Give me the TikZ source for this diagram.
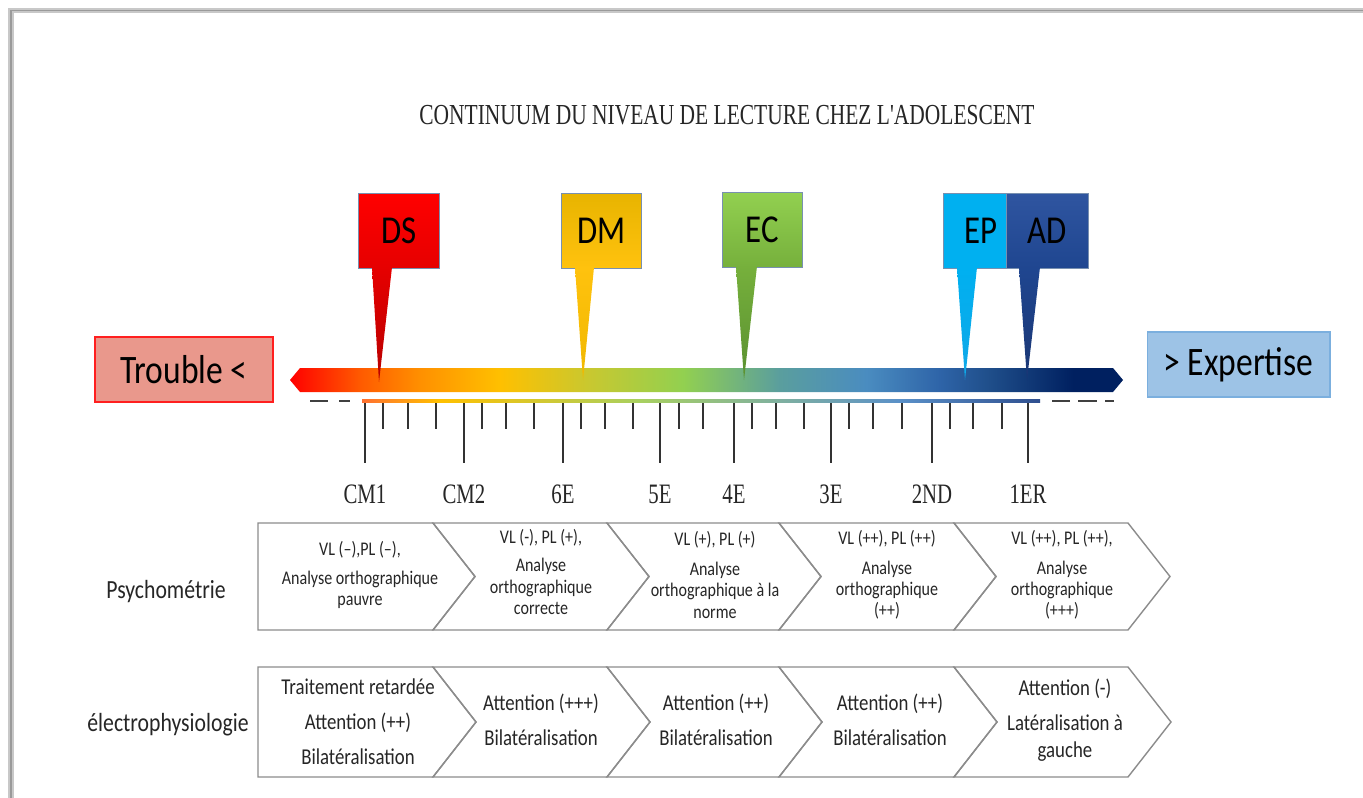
\documentclass[tikz,border=0pt]{standalone}
\usepackage{fontspec}
\setmainfont{Carlito}[FakeStretch=0.83]
\newfontfamily\titlefont{Liberation Serif}[FakeStretch=0.74]
\usepackage{xcolor}
\usetikzlibrary{positioning,calc}
\definecolor{framegray}{HTML}{C8C8C8}
\definecolor{framedark}{HTML}{9A9A9A}
\definecolor{troublefill}{HTML}{E9988C}
\definecolor{troubleedge}{HTML}{FF1F1F}
\definecolor{expertfill}{HTML}{9DC3E6}
\definecolor{expertedge}{HTML}{7BAFDE}
\definecolor{pinedge}{HTML}{7890B0}
\definecolor{dsred}{HTML}{FF0000}
\definecolor{dsdark}{HTML}{E60000}
\definecolor{dstail}{HTML}{B80000}
\definecolor{dmtop}{HTML}{E8B400}
\definecolor{dmgold}{HTML}{FFC20E}
\definecolor{dmtail}{HTML}{F0B800}
\definecolor{ecgreen}{HTML}{92D050}
\definecolor{ecdark}{HTML}{76B03C}
\definecolor{ectail}{HTML}{5A9030}
\definecolor{epblue}{HTML}{00B0F0}
\definecolor{eptail}{HTML}{10A8E8}
\definecolor{adblue}{HTML}{2F55A0}
\definecolor{addark}{HTML}{1F4690}
\definecolor{adtail}{HTML}{1A3674}
\definecolor{chevgray}{HTML}{8C8C8C}
\definecolor{inkdark}{HTML}{262626}
% bar colours
\definecolor{bRed}{HTML}{FF0000}
\definecolor{bOrange}{HTML}{FF5A00}
\definecolor{bAmber}{HTML}{FF9000}
\definecolor{bGold}{HTML}{FFC000}
\definecolor{bOlive}{HTML}{C8C830}
\definecolor{bGreen}{HTML}{92D050}
\definecolor{bTeal}{HTML}{5A9E9E}
\definecolor{bSky}{HTML}{4A8CC0}
\definecolor{bBlue}{HTML}{2E64A8}
\definecolor{bDeep}{HTML}{1F4E8A}
\definecolor{bNavy}{HTML}{002060}
% thin line under the bar
\definecolor{tOrange}{HTML}{FF7030}
\definecolor{tGold}{HTML}{FFC000}
\definecolor{tGreen}{HTML}{A8D060}
\definecolor{tTeal}{HTML}{7FB0A0}
\definecolor{tBlue}{HTML}{5A90C8}
\definecolor{tNavy}{HTML}{2F4F8F}
\pgfdeclarehorizontalshading{readbar}{100bp}{color(0bp)=(bRed); color(25bp)=(bRed);
  color(29.2bp)=(bOrange); color(32.8bp)=(bAmber); color(37.6bp)=(bGold);
  color(43bp)=(bOlive); color(48.6bp)=(bGreen); color(54.4bp)=(bTeal);
  color(59.6bp)=(bSky); color(64bp)=(bBlue); color(67bp)=(bDeep);
  color(72bp)=(bNavy); color(75bp)=(bNavy); color(100bp)=(bNavy)}
\pgfdeclarehorizontalshading{tickline}{100bp}{color(0bp)=(tOrange); color(25bp)=(tOrange);
  color(30.7bp)=(tGold); color(45.5bp)=(tGreen); color(55.8bp)=(tTeal);
  color(64.7bp)=(tBlue); color(75bp)=(tNavy); color(100bp)=(tNavy)}
\tikzset{
  titletext/.style={font=\titlefont\fontsize{16.5}{18}\selectfont, text=inkdark},
  pinbox/.style={rectangle, draw=pinedge, line width=0.4pt,
    minimum height=1.5cm, inner sep=0pt, anchor=north west,
    font=\fontsize{22.5}{26}\selectfont},
  endbox/.style={rectangle, draw=#1, line width=1pt,
    minimum height=1.3cm, inner sep=0pt,
    font=\fontsize{23}{26}\selectfont},
  ticklabel/.style={font=\titlefont\fontsize{16}{18}\selectfont, text=inkdark},
  tick/.style={draw=black!80, line width=0.6pt},
  dashline/.style={draw=black!75, line width=1.4pt},
  chevline/.style={draw=chevgray, line width=0.8pt, line join=miter},
  psytext/.style={font=\fontsize{11}{12}\selectfont, align=center, text=inkdark},
  eegtext/.style={font=\fontsize{12.9}{15.5}\selectfont, align=center, text=inkdark},
  rowlabel/.style={font=\fontsize{14.9}{17}\selectfont, text=inkdark},
}

\begin{document}
\begin{tikzpicture}[x=0.02cm, y=-0.02cm]
\useasboundingbox (0,0) rectangle (1363,798);
\fill[white] (0,0) rectangle (1363,798);

% Page frame
\draw[framegray, line width=0.11cm] (11,798) -- (11,10.5) -- (1363,10.5);
\draw[framedark, line width=0.025cm] (11,798) -- (11,10.5) -- (1363,10.5);

% Title
\node[titletext] (title) at (727,115) {CONTINUUM DU NIVEAU DE LECTURE CHEZ L'ADOLESCENT};

% End labels
\node[endbox=troubleedge, fill=troublefill, minimum width=3.56cm] (trouble) at (184,369.5) {Trouble <};
\node[endbox=expertedge, fill=expertfill, minimum width=3.66cm, line width=0.6pt] (expertise) at (1238.5,364.5) {> Expertise};

% Gradient bar
\shade[shading=readbar] (290,380) -- (300,368) -- (1113,368) -- (1123,380) -- (1113,392) -- (300,392) -- cycle;

% Scale under the bar
\draw[dashline] (310,401) -- (328,401);
\draw[dashline] (339,401) -- (350,401);
\draw[dashline] (1052,401) -- (1070,401);
\draw[dashline] (1078,401) -- (1097,401);
\draw[dashline] (1105,401) -- (1114,401);
\shade[shading=tickline] (362,399.8) rectangle (1040,402.6);
\foreach \x in {383,408,436,482,506,534,581,605,633,679,703,752,776,804,849,873,902,950,973,1002}
  \draw[tick] (\x,403) -- (\x,429);
\foreach \x/\lvl in {365/CM1,464/CM2,563/6E,660/5E,734/4E,831/3E,932/2ND,1028/1ER} {
  \draw[tick] (\x,403) -- (\x,463);
  \node[ticklabel] (lab\lvl) at (\x,494) {\lvl};
}

% Pins
\coordinate (dsTip) at (379,382);
\coordinate (dmTip) at (583,380);
\coordinate (ecTip) at (744,380);
\coordinate (epTip) at (965,380);
\coordinate (adTip) at (1027,380);

\node[pinbox, top color=dsred, bottom color=dsdark, minimum width=1.62cm] (ds) at (358,193) {DS};
\node[pinbox, top color=dmtop, bottom color=dmgold, minimum width=1.6cm] (dm) at (561,193) {DM};
\node[pinbox, top color=ecgreen, bottom color=ecdark, minimum width=1.6cm] (ec) at (722,192) {EC};
\node[pinbox, fill=epblue, minimum width=1.26cm] (ep) at (943,193) {\hspace{0.25cm}EP};
\node[pinbox, top color=adblue, bottom color=addark, minimum width=1.64cm] (ad) at (1006,193) {AD};

\shade[top color=dsdark, bottom color=dstail] ([xshift=0.28cm, yshift=0.03cm]ds.south west) -- (dsTip) -- ([xshift=0.68cm, yshift=0.03cm]ds.south west) -- cycle;
\shade[top color=dmgold, bottom color=dmtail] ([xshift=0.28cm, yshift=0.03cm]dm.south west) -- (dmTip) -- ([xshift=0.66cm, yshift=0.03cm]dm.south west) -- cycle;
\shade[top color=ecdark, bottom color=ectail] ([xshift=0.28cm, yshift=0.03cm]ec.south west) -- (ecTip) -- ([xshift=0.70cm, yshift=0.03cm]ec.south west) -- cycle;
\shade[top color=epblue, bottom color=eptail] ([xshift=0.28cm, yshift=0.03cm]ep.south west) -- (epTip) -- ([xshift=0.68cm, yshift=0.03cm]ep.south west) -- cycle;
\shade[top color=addark, bottom color=adtail] ([xshift=0.26cm, yshift=0.03cm]ad.south west) -- (adTip) -- ([xshift=0.68cm, yshift=0.03cm]ad.south west) -- cycle;

% Psychometrie row
\foreach \L/\R/\n in {258/433/0,433/607/42,607/779/42,779/954/42,954/1128/42}
  \draw[chevline] (\L,523) -- (\R,523) -- ++(42,53.5) -- ++(-42,53.5) -- (\L,630) -- ++(\n,-53.5) -- cycle;
\node[rowlabel] (psy) at (166,592) {Psychométrie};
\node[psytext] (p1) at (360,575) {VL (--),PL (--),\\[5pt]Analyse orthographique\\pauvre};
\node[psytext] (p2) at (541,572) {VL (-), PL (+),\\[4pt]Analyse\\orthographique\\correcte};
\node[psytext] (p3) at (715,575) {VL (+), PL (+)\\[5pt]Analyse\\orthographique à la\\norme};
\node[psytext] (p4) at (887,575) {VL (++), PL (++)\\[5pt]Analyse\\orthographique\\(++)};
\node[psytext] (p5) at (1062,575) {VL (++), PL (++),\\[5pt]Analyse\\orthographique\\(+++)};

% Electrophysiologie row
\foreach \L/\R/\n in {258/433/0,433/607/43,607/779/43,779/954/43,954/1128/43}
  \draw[chevline] (\L,667) -- (\R,667) -- ++(43,55) -- ++(-43,55) -- (\L,777) -- ++(\n,-55) -- cycle;
\node[rowlabel] (elec) at (168,725) {électrophysiologie};
\node[eegtext] (e1) at (358,722) {Traitement retardée\\[4.5pt]Attention (++)\\[4.5pt]Bilatéralisation};
\node[eegtext] (e2) at (541,720) {Attention (+++)\\[4.5pt]Bilatéralisation};
\node[eegtext] (e3) at (716,720) {Attention (++)\\[4.5pt]Bilatéralisation};
\node[eegtext] (e4) at (890,720) {Attention (++)\\[4.5pt]Bilatéralisation};
\node[eegtext] (e5) at (1065,720) {Attention (-)\\[4.5pt]Latéralisation à\\gauche};

\end{tikzpicture}
\end{document}
